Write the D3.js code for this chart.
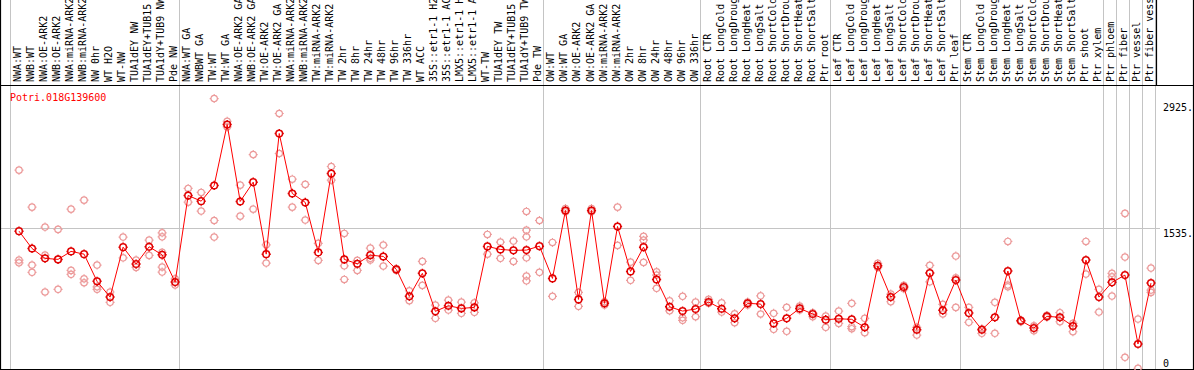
<!DOCTYPE html>
<html>
<head>
<meta charset="utf-8">
<script src="https://cdn.jsdelivr.net/npm/d3@7"></script>
<style>
body { margin: 0; background: #fff; }
svg { display: block; font-family: "DejaVu Sans Mono", monospace; font-size: 10px; }
</style>
</head>
<body>
<svg id="chart" width="1194" height="370"></svg>
<script>
const gene = 'Potri.018G139600';

const samples = [
  'NWA:WT', 'NWB:WT', 'NWA:OE-ARK2', 'NWB:OE-ARK2', 'NWA:miRNA-ARK2', 'NWB:miRNA-ARK2',
  'NW 0hr', 'WT H2O', 'WT-NW', 'TUA1dEY NW', 'TUA1dEY+TUB15 NW', 'TUA1dY+TUB9 NW', 'Pde NW',
  'NWA:WT GA', 'NWBWT GA', 'TW:WT', 'TW:WT GA', 'NWA:OE-ARK2 GA', 'NWB:OE-ARK2 GA',
  'TW:OE-ARK2', 'TW:OE-ARK2 GA', 'NWA:miRNA-ARK2', 'NWB:miRNA-ARK2', 'TW:miRNA-ARK2',
  'TW:miRNA-ARK2', 'TW 2hr', 'TW 8hr', 'TW 24hr', 'TW 48hr', 'TW 96hr', 'TW 336hr', 'WT ACC',
  '35S::etr1-1 H2O', '35S::etr1-1 ACC', 'LMX5::etr1-1 H2O', 'LMX5::etr1-1 ACC', 'WT-TW',
  'TUA1dEY TW', 'TUA1dEY+TUB15 TW', 'TUA1dY+TUB9 TW', 'Pde TW',
  'OW:WT', 'OW:WT GA', 'OW:OE-ARK2', 'OW:OE-ARK2 GA', 'OW:miRNA-ARK2', 'OW:miRNA-ARK2',
  'OW 2hr', 'OW 8hr', 'OW 24hr', 'OW 48hr', 'OW 96hr', 'OW 336hr',
  'Root CTR', 'Root LongCold', 'Root LongDrought', 'Root LongHeat', 'Root LongSalt',
  'Root ShortCold', 'Root ShortDrought', 'Root ShortHeat', 'Root ShortSalt', 'Ptr root',
  'Leaf CTR', 'Leaf LongCold', 'Leaf LongDrought', 'Leaf LongHeat', 'Leaf LongSalt',
  'Leaf ShortCold', 'Leaf ShortDrought', 'Leaf ShortHeat', 'Leaf ShortSalt', 'Ptr leaf',
  'Stem CTR', 'Stem LongCold', 'Stem LongDrought', 'Stem LongHeat', 'Stem LongSalt',
  'Stem ShortCold', 'Stem ShortDrought', 'Stem ShortHeat', 'Stem ShortSalt', 'Ptr shoot',
  'Ptr xylem', 'Ptr phloem', 'Ptr fiber', 'Ptr vessel', 'Ptr fiber vessel'
];

// index where each sample group starts (last one closes the final group)
const groupStarts = [0, 13, 41, 53, 63, 73, 84, 85, 86, 87, 88];

const means = [
  1499, 1311, 1203, 1192, 1279, 1249, 953, 782, 1325, 1141, 1329, 1242, 945,
  1887, 1825, 1996, 2658, 1822, 2032, 1249, 2561, 1909, 1811, 1268, 2126, 1192, 1144,
  1238, 1224, 1083, 790, 1040, 627, 688, 659, 670, 1333, 1300, 1290, 1293, 1336,
  985, 1724, 757, 1724, 714, 1550, 1061, 1325, 974, 677, 630, 652,
  728, 655, 551, 714, 706, 496, 551, 659, 598, 536,
  546, 540, 453, 1122, 782, 891, 427, 1043, 638, 967,
  608, 427, 562, 1065, 525, 445, 573, 562, 467, 1184, 782,
  942, 1021, 272, 934
];

const reps = [
  [2162, 1184, 1155], [1760, 1130, 1051], [1543, 1238, 837], [1518, 1192, 866],
  [1738, 1072, 1029], [1836, 981, 938], [1130, 894, 866], [837, 725], [1434, 1209],
  [1184, 1105], [1401, 1235], [1481, 1437, 1268, 1108, 1054], [981, 913],
  [1963, 1814], [1920, 1717], [2941, 1615, 1434], [2694, 2632], [1999, 1662],
  [2332, 1738], [1350, 1152], [2778, 2343], [2064, 1760], [2007, 1619], [1366, 1181],
  [2202, 2053], [1474, 1122, 974], [1181, 1072], [1315, 1203, 1184], [1347, 1119],
  [1090, 1072], [851, 742], [1170, 909], [695, 551], [750, 641], [728, 605], [720, 616],
  [1463, 1249], [1380, 1203], [1391, 1170], [1713, 1510, 1437, 1209, 1010, 959], [1615, 1051],
  [1376, 790], [1746, 1709], [833, 681], [1746, 1709], [731, 695], [1760, 1344],
  [1162, 964], [1442, 1401, 1159], [1057, 1021, 877], [742, 633], [790, 557, 529], [728, 568],
  [757, 714], [720, 619], [601, 503], [728, 695], [796, 598], [605, 431], [670, 410],
  [684, 641], [612, 568], [576, 453],
  [630, 496], [714, 460, 438], [551, 394], [1148, 1105], [815, 731], [909, 872],
  [453, 369], [1127, 948], [703, 598], [1228, 992, 670],
  [670, 507], [438, 388], [725, 388], [1387, 913, 894], [532, 514], [470, 416],
  [583, 562], [612, 514], [496, 405], [1387, 1032], [866, 619],
  [1040, 1003, 793], [1692, 1217, 127], [543, 8], [1097, 858, 833]
];

const yTicks = [0, 1535, 2925];

const svg = d3.select('#chart');
const width = 1194, height = 370;
const headerBottom = 85, plotBottom = 369, plotRight = 1156;

const x = d3.scaleLinear().domain([0, samples.length]).range([10, 1155]);
const y = d3.scaleLinear().domain([0, 2925]).range([plotBottom, 100]);
const px = i => x(i) + 9;

// grey separators between sample groups
svg.append('g')
  .selectAll('line')
  .data(groupStarts)
  .join('line')
  .attr('x1', d => Math.round(x(d)) + 0.5)
  .attr('x2', d => Math.round(x(d)) + 0.5)
  .attr('y1', 0)
  .attr('y2', plotBottom)
  .attr('stroke', '#c4c4c4');

// horizontal reference line
svg.append('line')
  .attr('x1', 1).attr('x2', 1160)
  .attr('y1', Math.round(y(1535)) + 0.5)
  .attr('y2', Math.round(y(1535)) + 0.5)
  .attr('stroke', '#c4c4c4');

// frame
const frame = svg.append('g').attr('stroke', '#000').attr('stroke-width', 1.2);
frame.append('line').attr('x1', 0).attr('x2', width).attr('y1', headerBottom + 0.5).attr('y2', headerBottom + 0.5);
frame.append('line').attr('x1', 0).attr('x2', width).attr('y1', plotBottom + 0.5).attr('y2', plotBottom + 0.5);
frame.append('line').attr('x1', 0.5).attr('x2', 0.5).attr('y1', 0).attr('y2', height);
frame.append('line').attr('x1', width - 0.5).attr('x2', width - 0.5).attr('y1', 0).attr('y2', height);
frame.append('line').attr('x1', plotRight + 0.5).attr('x2', plotRight + 0.5).attr('y1', 0).attr('y2', headerBottom);

// sample labels (rotated)
svg.append('g')
  .selectAll('text')
  .data(samples)
  .join('text')
  .attr('transform', (d, i) => `translate(${x(i) + 11},82) rotate(-90)`)
  .attr('fill', '#000')
  .text(d => d);

// right axis
const axis = svg.append('g')
  .attr('transform', `translate(1160,0)`)
  .call(d3.axisRight(y).tickValues(yTicks).tickSize(0).tickPadding(3)
    .tickFormat(d => d === 0 ? '0' : d + '.'));
axis.select('.domain').remove();
axis.selectAll('text')
  .attr('font-family', '"DejaVu Sans Mono", monospace')
  .attr('font-size', 10)
  .attr('fill', '#000')
  .attr('dy', d => d === 0 ? '-0.3em' : (d === 2925 ? '1.05em' : '0.85em'));

// marker: circle with little ticks
function marker(r) {
  const p = d3.path();
  p.moveTo(r, 0);
  p.arc(0, 0, r, 0, 2 * Math.PI);
  p.moveTo(0, -r); p.lineTo(0, -r - 1.3);
  p.moveTo(0, r); p.lineTo(0, r + 1.3);
  p.moveTo(-r, 0); p.lineTo(-r - 1.3, 0);
  p.moveTo(r, 0); p.lineTo(r + 1.3, 0);
  return p.toString();
}

const repPoints = reps.flatMap((vals, i) => vals.map(v => ({ i, v })));

svg.append('g')
  .selectAll('path')
  .data(repPoints)
  .join('path')
  .attr('d', marker(3.2))
  .attr('transform', d => `translate(${px(d.i)},${y(d.v)})`)
  .attr('fill', 'none')
  .attr('stroke', '#ec9a9a')
  .attr('stroke-width', 1.2);

const line = d3.line()
  .x((d, i) => px(i))
  .y(d => y(d));

svg.append('path')
  .datum(means)
  .attr('d', line)
  .attr('fill', 'none')
  .attr('stroke', '#ff0000')
  .attr('stroke-width', 1);

svg.append('g')
  .selectAll('path')
  .data(means)
  .join('path')
  .attr('d', marker(3.3))
  .attr('transform', (d, i) => `translate(${px(i)},${y(d)})`)
  .attr('fill', 'none')
  .attr('stroke', '#e00000')
  .attr('stroke-width', 1.5);

svg.append('text')
  .attr('x', 10)
  .attr('y', 100.5)
  .attr('fill', '#ff0000')
  .text(gene);
</script>
</body>
</html>
